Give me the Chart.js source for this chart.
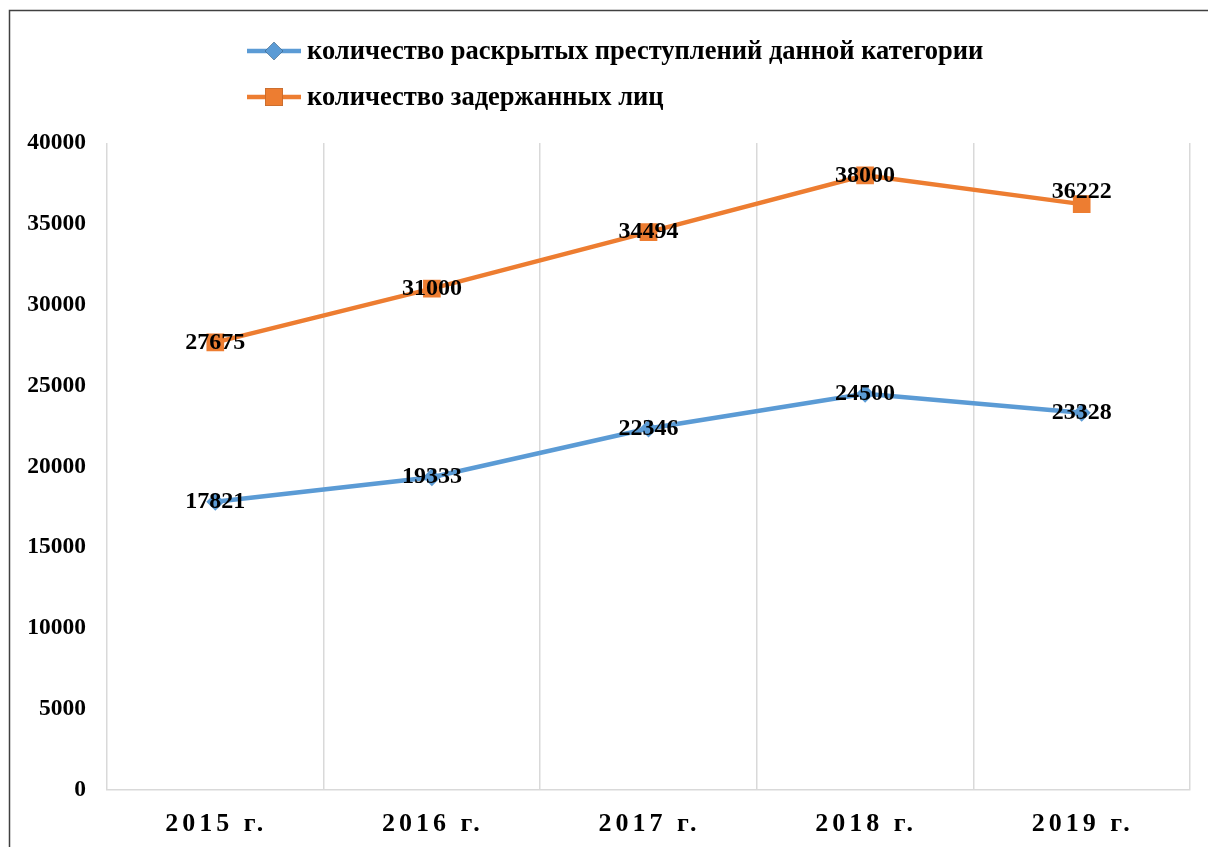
<!DOCTYPE html>
<html>
<head>
<meta charset="utf-8">
<script src="https://cdn.jsdelivr.net/npm/chart.js@4.4.1/dist/chart.umd.min.js"></script>
<style>
  body { margin: 0; background: #fff; }
  #wrap { width: 1208px; height: 847px; position: relative; }
</style>
</head>
<body>
<div id="wrap"><canvas id="chart"></canvas></div>
<script>
const years = ['2015 г.', '2016 г.', '2017 г.', '2018 г.', '2019 г.'];
const solved = [17821, 19333, 22346, 24500, 23328];
const detained = [27675, 31000, 34494, 38000, 36222];
const seriesNames = [
  'количество раскрытых преступлений данной категории',
  'количество задержанных лиц'
];
const yTicks = [0, 5000, 10000, 15000, 20000, 25000, 30000, 35000, 40000];

const SERIF = '"Liberation Serif", "Times New Roman", serif';

// frame (left + top), legend, data labels and spaced x labels
const extras = {
  id: 'extras',
  beforeDraw(chart) {
    const ctx = chart.ctx;
    ctx.save();
    ctx.strokeStyle = '#404040';
    ctx.lineWidth = 1.5;
    ctx.beginPath();
    ctx.moveTo(9.5, 847);
    ctx.lineTo(9.5, 10.5);
    ctx.lineTo(1208, 10.5);
    ctx.stroke();
    ctx.restore();
  },
  afterDatasetsDraw(chart) {
    const ctx = chart.ctx;
    ctx.save();
    ctx.font = 'bold 24px ' + SERIF;
    ctx.fillStyle = '#000';
    ctx.textAlign = 'center';
    ctx.textBaseline = 'middle';
    chart.data.datasets.forEach((ds, i) => {
      const meta = chart.getDatasetMeta(i);
      meta.data.forEach((pt, j) => {
        const shift = (ds.labelShift && ds.labelShift[j]) || 0;
        ctx.fillText(String(ds.data[j]), pt.x, pt.y + shift);
      });
    });
    ctx.restore();
  },
  afterDraw(chart) {
    const ctx = chart.ctx;
    // legend
    ctx.save();
    chart.data.datasets.forEach((ds, i) => {
      const y = 51 + i * 46;
      ctx.strokeStyle = ds.borderColor;
      ctx.lineWidth = 4.5;
      ctx.beginPath();
      ctx.moveTo(247, y);
      ctx.lineTo(301, y);
      ctx.stroke();
      Chart.helpers.drawPoint(ctx, {
        pointStyle: ds.pointStyle,
        radius: ds.pointRadius,
        borderWidth: 0
      }, 274, y);
      ctx.fillStyle = ds.borderColor;
      ctx.fill();
      ctx.fillStyle = '#000';
      ctx.font = 'bold 26.5px ' + SERIF;
      ctx.textAlign = 'left';
      ctx.textBaseline = 'middle';
      ctx.fillText(ds.label, 307, y + 1);
    });
    // x labels with letter spacing
    const xs = chart.scales.x;
    ctx.font = 'bold 26px ' + SERIF;
    ctx.letterSpacing = '4px';
    ctx.textAlign = 'center';
    ctx.textBaseline = 'middle';
    chart.data.labels.forEach((lab, i) => {
      ctx.fillText(lab, xs.getPixelForValue(i) + 1, 824);
    });
    ctx.restore();
  }
};

new Chart(document.getElementById('chart'), {
  type: 'line',
  data: {
    labels: years,
    datasets: [
      {
        label: seriesNames[0],
        data: solved,
        borderColor: '#5b9bd5',
        backgroundColor: '#5b9bd5',
        borderWidth: 4.5,
        pointStyle: 'rectRot',
        pointRadius: 9,
        pointBorderWidth: 0,
        tension: 0
      },
      {
        label: seriesNames[1],
        data: detained,
        borderColor: '#ed7d31',
        backgroundColor: '#ed7d31',
        borderWidth: 4.5,
        pointStyle: 'rect',
        pointRadius: 12.5,
        pointBorderWidth: 0,
        tension: 0,
        labelShift: [0, 0, 0, 0, -12]
      }
    ]
  },
  options: {
    responsive: true,
    maintainAspectRatio: false,
    animation: false,
    layout: { padding: { top: 143, right: 18, left: 0, bottom: 0 } },
    plugins: {
      legend: { display: false },
      tooltip: { enabled: false }
    },
    scales: {
      x: {
        offset: true,
        grid: { display: true, offset: true, color: '#d9d9d9', lineWidth: 1.5, drawTicks: false },
        border: { display: true, color: '#d9d9d9', width: 1.5 },
        ticks: { display: false },
        afterFit(scale) { scale.height = 57; }
      },
      y: {
        min: 0,
        max: 40000,
        afterBuildTicks(scale) { scale.ticks = yTicks.map(v => ({ value: v })); },
        grid: { display: false, drawTicks: false },
        border: { display: false },
        ticks: {
          padding: 21,
          color: '#000',
          font: { family: SERIF, size: 23.5, weight: 'bold' },
          callback: v => String(v)
        },
        afterFit(scale) { scale.width = 107; }
      }
    }
  },
  plugins: [extras]
});
</script>
</body>
</html>
